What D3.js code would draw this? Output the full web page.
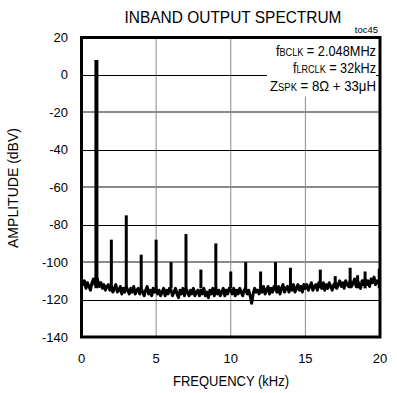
<!DOCTYPE html>
<html><head><meta charset="utf-8">
<script src="https://cdn.jsdelivr.net/npm/d3@7"></script>
<style>body{margin:0;background:#fff}svg{display:block}text{font-family:"Liberation Sans",Arial,sans-serif;fill:#000}</style>
</head><body><svg id="c" width="397" height="393"></svg>
<script>
// ---- data ----
const xTicks = [0, 5, 10, 15, 20];
const yTicks = [20, 0, -20, -40, -60, -80, -100, -120, -140];
// noise floor, sampled every 0.1 kHz from 0 to 20 kHz (dBV)
const floorStep = 0.1;
const floorLevels = [
 -109,-112,-110,-114,-111,-113,-115,-111,-109,-112,
 -108,-110,-113,-111,-114,-112,-115,-113,-112,-115,
 -113,-116,-114,-112,-116,-115,-113,-117,-114,-116,
 -113,-115,-117,-114,-116,-113,-117,-115,-114,-117,
 -114,-116,-118,-115,-113,-117,-115,-118,-114,-116,
 -114,-117,-115,-118,-116,-114,-118,-115,-117,-114,
 -115,-118,-116,-114,-117,-119,-115,-117,-114,-118,
 -114,-116,-118,-115,-117,-114,-118,-116,-115,-118,
 -115,-117,-114,-118,-116,-119,-115,-117,-114,-118,
 -114,-117,-115,-118,-116,-114,-118,-115,-117,-114,
 -115,-117,-114,-118,-115,-117,-114,-116,-118,-115,
 -114,-117,-115,-118,-122,-117,-114,-116,-115,-117,
 -114,-116,-113,-117,-115,-113,-117,-114,-116,-113,
 -114,-116,-113,-117,-114,-112,-116,-114,-113,-116,
 -113,-115,-112,-116,-114,-112,-115,-113,-116,-112,
 -114,-112,-115,-113,-111,-115,-113,-112,-115,-111,
 -112,-114,-111,-115,-112,-114,-111,-113,-115,-112,
 -111,-114,-112,-110,-113,-111,-114,-110,-112,-113,
 -110,-113,-111,-109,-113,-110,-112,-114,-110,-112,
 -109,-112,-110,-113,-109,-111,-108,-112,-110,-111,
 -108
];
// harmonic spikes
const spikeFreqs  = [1, 2, 3, 4, 5, 6, 7, 8, 9, 10, 11, 12, 13, 14, 16, 17, 18, 18.5, 19, 19.95];
const spikeLevels = [8, -88, -75, -96, -88, -100, -85, -104, -90, -105, -100, -105, -100, -103, -104, -107.5, -103, -107, -105, -103.5];
const spikeBase = -114;

// ---- layout ----
const svg = d3.select("#c");
const X0 = 81.5, X1 = 380, Y0 = 337, Y1 = 37.5;
const x = d3.scaleLinear().domain([0, 20]).range([X0, X1]);
const y = d3.scaleLinear().domain([-140, 20]).range([Y0, Y1]);

// vertical grid
svg.append("g").selectAll("line").data(xTicks.slice(1, -1)).join("line")
  .attr("x1", d => x(d)).attr("x2", d => x(d)).attr("y1", Y1).attr("y2", Y0)
  .attr("stroke", "#8a8a8a").attr("stroke-width", 1);
// horizontal grid
svg.append("g").selectAll("line").data(yTicks.slice(1, -1)).join("line")
  .attr("x1", X0).attr("x2", X1)
  .attr("y1", (d, i) => i % 2 === 0 ? Math.round(y(d)) + 0.5 : Math.round(y(d)))
  .attr("y2", (d, i) => i % 2 === 0 ? Math.round(y(d)) + 0.5 : Math.round(y(d)))
  .attr("stroke", (d, i) => i % 2 === 0 ? "#000" : "#8a8a8a")
  .attr("stroke-width", (d, i) => i % 2 === 0 ? 1 : 2);

// legend box (white, covers grid)
svg.append("rect").attr("x", 267).attr("y", Y1).attr("width", 109).attr("height", 59).attr("fill", "#fff");

// noise floor
const floorPts = floorLevels.map((v, i) => [i * floorStep, v]);
svg.append("path").datum(floorPts)
  .attr("d", d3.line().x(d => x(d[0])).y(d => y(d[1])))
  .attr("fill", "none").attr("stroke", "#000").attr("stroke-width", 3).attr("stroke-linejoin", "round");

// spikes
svg.append("g").selectAll("line").data(spikeFreqs).join("line")
  .attr("x1", d => x(d)).attr("x2", d => x(d))
  .attr("y1", y(spikeBase)).attr("y2", (d, i) => y(spikeLevels[i]))
  .attr("stroke", "#000").attr("stroke-width", (d, i) => i === 0 ? 4 : 3);

// frame
svg.append("rect").attr("x", X0).attr("y", Y1).attr("width", X1 - X0).attr("height", Y0 - Y1)
  .attr("fill", "none").attr("stroke", "#000").attr("stroke-width", 3);

// y tick labels
svg.append("g").selectAll("text").data(yTicks).join("text")
  .attr("x", 68).attr("y", d => y(d) + 4.5).attr("text-anchor", "end")
  .style("font-size", "13px").text(d => d);
// x tick labels
svg.append("g").selectAll("text").data(xTicks).join("text")
  .attr("x", d => x(d)).attr("y", 363).attr("text-anchor", "middle")
  .style("font-size", "13px").text(d => d);

// titles
svg.append("text").attr("x", 233).attr("y", 23).attr("text-anchor", "middle")
  .attr("textLength", 217).attr("lengthAdjust", "spacingAndGlyphs")
  .style("font-size", "17px").text("INBAND OUTPUT SPECTRUM");
svg.append("text").attr("x", 231).attr("y", 386).attr("text-anchor", "middle")
  .attr("textLength", 116).attr("lengthAdjust", "spacingAndGlyphs")
  .style("font-size", "14px").text("FREQUENCY (kHz)");
svg.append("text").attr("transform", "translate(18,188) rotate(-90)").attr("text-anchor", "middle")
  .attr("textLength", 120).attr("lengthAdjust", "spacingAndGlyphs")
  .style("font-size", "14px").text("AMPLITUDE (dBV)");
svg.append("text").attr("x", 378).attr("y", 33).attr("text-anchor", "end")
  .style("font-size", "9.5px").text("toc45");

// legend
const leg = [
  {main: "f", sub: "BCLK", rest: " = 2.048MHz", y: 56, len: 100},
  {main: "f", sub: "LRCLK", rest: " = 32kHz", y: 73, len: 83},
  {main: "Z", sub: "SPK", rest: " = 8Ω + 33μH", y: 91, len: 106}
];
leg.forEach(l => {
  const t = svg.append("text").attr("x", 376).attr("y", l.y).attr("text-anchor", "end")
    .attr("textLength", l.len).attr("lengthAdjust", "spacingAndGlyphs").style("font-size", "14px");
  t.append("tspan").text(l.main);
  t.append("tspan").style("font-size", "10px").text(l.sub);
  t.append("tspan").text(l.rest);
});
</script></body></html>
